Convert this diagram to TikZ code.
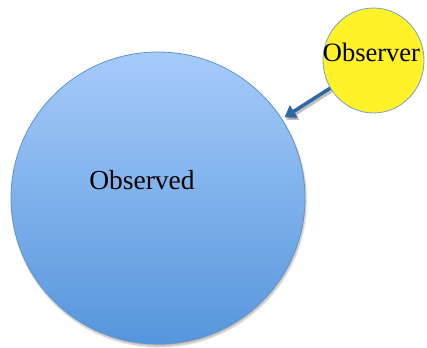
\documentclass[tikz,border=0pt]{standalone}
\usepackage{fontspec}
\setmainfont{Liberation Serif}
\usetikzlibrary{shapes.geometric,arrows.meta,shadows.blur}
\definecolor{bluetop}{RGB}{166,203,250}
\definecolor{bluebot}{RGB}{86,150,220}
\definecolor{blueedge}{RGB}{96,146,204}
\definecolor{sunfill}{RGB}{255,242,40}
\definecolor{sunedge}{RGB}{120,160,200}
\definecolor{arrowblue}{RGB}{46,104,166}
\tikzset{
  bubble/.style={ellipse, inner sep=0pt, line width=0.8pt},
  bigbubble/.style={bubble, draw=blueedge, top color=bluetop, bottom color=bluebot,
    blur shadow={shadow xshift=1pt, shadow yshift=-2.5pt, shadow blur steps=8, shadow opacity=30}},
  smallbubble/.style={bubble, draw=sunedge, fill=sunfill},
  txt/.style={font=\fontsize{27.5}{30}\selectfont, anchor=base, inner sep=0pt},
  pointer/.style={line width=3.5pt, draw=arrowblue, -{Triangle[width=14pt,length=11pt]}}
}
\begin{document}
\begin{tikzpicture}[x=1pt,y=-1pt]
  \useasboundingbox (0,0) rectangle (427,347);
  % the observed body and the observer
  \node[bigbubble, minimum width=294pt, minimum height=292pt] (obs) at (158,198) {};
  \node[smallbubble, minimum width=101pt, minimum height=105pt] (obsr) at (373.5,60.5) {};
  % texts
  \node[txt] (obstext) at (142,189) {Observed};
  \node[txt, font=\fontsize{26.5}{29}\selectfont] (obsrtext) at (371.5,62) {Observer};
  % arrow from observer to observed, with its soft shadow
  \draw[pointer, draw=black, opacity=0.25, transform canvas={xshift=1.5pt,yshift=-2.5pt}, shorten >=3pt] (obsr) -- (obs);
  \draw[pointer, shorten >=3pt] (obsr) -- (obs);
\end{tikzpicture}
\end{document}
